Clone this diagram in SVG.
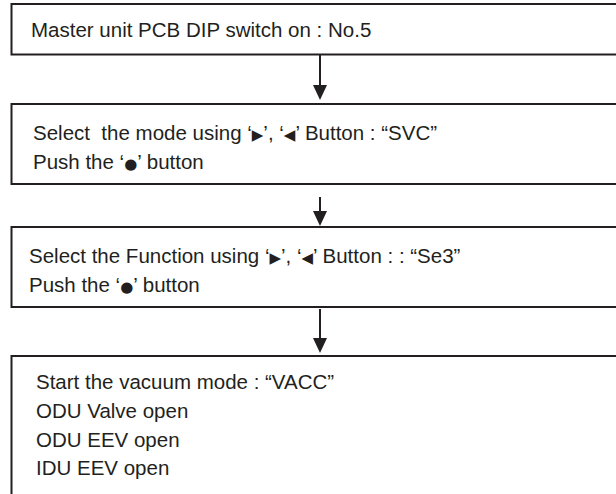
<svg xmlns="http://www.w3.org/2000/svg" width="616" height="494" viewBox="0 0 616 494">
  <style>
    .box { fill: #ffffff; stroke: #231f20; stroke-width: 2; }
    .t { font-family: "Liberation Sans", Arial, sans-serif; font-size: 20.5px; fill: #231f20; white-space: pre; }
    .sym { font-family: "DejaVu Sans", sans-serif; font-size: 15px; }
    .conn { stroke: #231f20; stroke-width: 2; fill: none; }
    .head { fill: #231f20; }
  </style>
  <rect width="616" height="494" fill="#ffffff"/>
  <g id="node1">
    <rect class="box" x="11.5" y="4" width="620" height="50.5"/>
    <text class="t" x="31" y="37">Master unit PCB DIP switch on : No.5</text>
  </g>
  <g id="node2">
    <rect class="box" x="11.5" y="104" width="620" height="80"/>
    <text class="t" x="33" y="140" xml:space="preserve">Select  the mode using ‘<tspan class="sym">▶</tspan>’, ‘<tspan class="sym">◀</tspan>’ Button : “SVC”</text>
    <text class="t" x="33" y="169" xml:space="preserve">Push the ‘<tspan class="sym">●</tspan>’ button</text>
  </g>
  <g id="node3">
    <rect class="box" x="11.5" y="227" width="620" height="80"/>
    <text class="t" x="29" y="263" xml:space="preserve">Select the Function using ‘<tspan class="sym">▶</tspan>’, ‘<tspan class="sym">◀</tspan>’ Button : : “Se3”</text>
    <text class="t" x="29" y="292" xml:space="preserve">Push the ‘<tspan class="sym">●</tspan>’ button</text>
  </g>
  <g id="node4">
    <rect class="box" x="11.5" y="356" width="620" height="160"/>
    <text class="t" x="36" y="389">Start the vacuum mode : “VACC”</text>
    <text class="t" x="36" y="418">ODU Valve open</text>
    <text class="t" x="36" y="447">ODU EEV open</text>
    <text class="t" x="36" y="475">IDU EEV open</text>
  </g>
  <g id="connectors">
    <line class="conn" x1="320" y1="55" x2="320" y2="88"/>
    <polygon class="head" points="313,85 327,85 320,100"/>
    <line class="conn" x1="320" y1="197" x2="320" y2="214"/>
    <polygon class="head" points="313,211 327,211 320,226"/>
    <line class="conn" x1="320" y1="309" x2="320" y2="340"/>
    <polygon class="head" points="313,338 327,338 320,353"/>
  </g>
</svg>
